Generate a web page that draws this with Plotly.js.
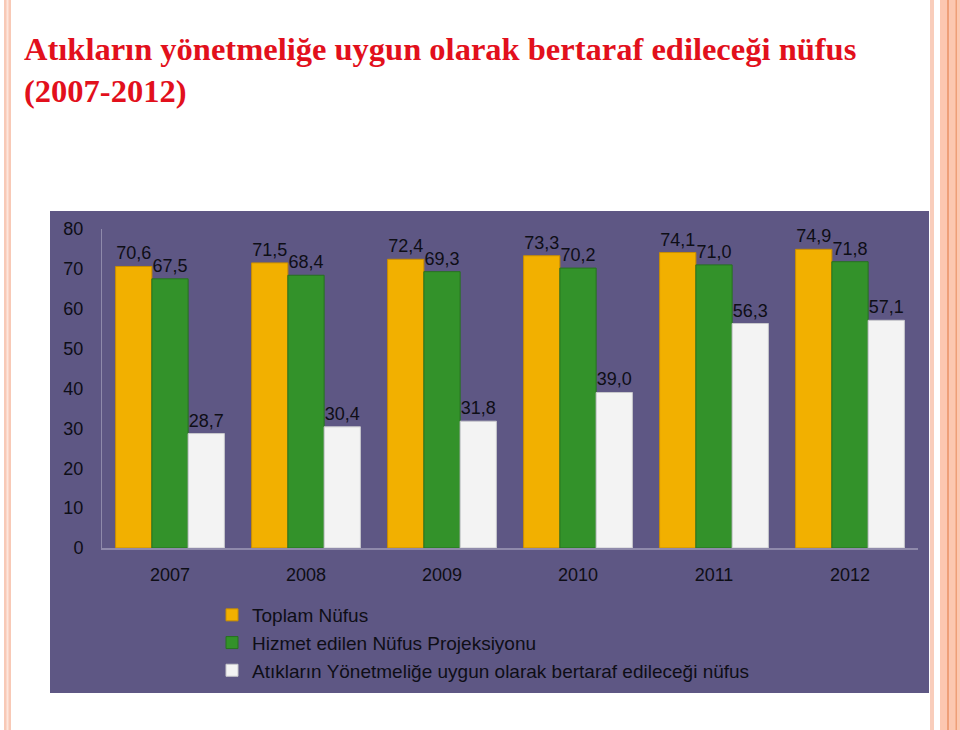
<!DOCTYPE html>
<html>
<head>
<meta charset="utf-8">
<script src="https://cdn.plot.ly/plotly-3.0.1.min.js"></script>
<style>
  html, body { margin: 0; padding: 0; background: #ffffff; }
  #chart { width: 960px; height: 730px; }
</style>
</head>
<body>
<div id="chart"></div>
<script>
// ---- data ----
const years = ['2007', '2008', '2009', '2010', '2011', '2012'];
const toplamNufus = [70.6, 71.5, 72.4, 73.3, 74.1, 74.9];
const hizmetEdilen = [67.5, 68.4, 69.3, 70.2, 71.0, 71.8];
const bertarafNufus = [28.7, 30.4, 31.8, 39.0, 56.3, 57.1];
const seriesNames = [
  'Toplam Nüfus',
  'Hizmet edilen Nüfus Projeksiyonu',
  'Atıkların Yönetmeliğe uygun olarak bertaraf edileceği nüfus'
];
const titleLine1 = 'Atıkların yönetmeliğe uygun olarak bertaraf edileceği nüfus';
const titleLine2 = '(2007-2012)';

// ---- layout geometry (pixels) ----
const W = 960, H = 730;
const PL = 102, PR = 918, PT = 229, PB = 548;
const px = v => (v - PL) / (PR - PL);
const py = v => (PB - v) / (PB - PT);

const textColor = '#0e0e16';
const common = {
  type: 'bar',
  x: years,
  texttemplate: '%{y:.1f}',
  textposition: 'outside',
  constraintext: 'none',
  cliponaxis: false,
  textfont: { family: 'Liberation Sans, Arial, sans-serif', size: 18, color: textColor },
  hoverinfo: 'x+y'
};

const traces = [
  Object.assign({}, common, {
    name: seriesNames[0], y: toplamNufus,
    marker: { color: '#f2b000', line: { color: '#c98e00', width: 1 } }
  }),
  Object.assign({}, common, {
    name: seriesNames[1], y: hizmetEdilen,
    marker: { color: '#33922a', line: { color: '#26721f', width: 1 } }
  }),
  Object.assign({}, common, {
    name: seriesNames[2], y: bertarafNufus,
    marker: { color: '#f3f3f3', line: { color: '#c8c8cc', width: 1 } }
  })
];

const shapes = [
  // purple panel
  { type: 'rect', xref: 'paper', yref: 'paper', layer: 'below',
    x0: px(50), x1: px(929), y0: py(693), y1: py(211),
    fillcolor: '#5e5784', line: { width: 0 } },
  // left decorative band
  { type: 'rect', xref: 'paper', yref: 'paper', layer: 'below',
    x0: px(4), x1: px(11), y0: py(730), y1: py(0),
    fillcolor: '#f8c9b6', line: { width: 0 } },
  { type: 'rect', xref: 'paper', yref: 'paper', layer: 'below',
    x0: px(6.5), x1: px(8.5), y0: py(730), y1: py(0),
    fillcolor: '#fde6dc', line: { width: 0 } },
  // right decorative lines
  { type: 'rect', xref: 'paper', yref: 'paper', layer: 'below',
    x0: px(930), x1: px(934), y0: py(730), y1: py(0),
    fillcolor: '#f9cdbb', line: { width: 0 } },
  { type: 'rect', xref: 'paper', yref: 'paper', layer: 'below',
    x0: px(940), x1: px(960), y0: py(730), y1: py(0),
    fillcolor: '#fcc7b0', line: { width: 0 } },
  { type: 'rect', xref: 'paper', yref: 'paper', layer: 'below',
    x0: px(947), x1: px(949), y0: py(730), y1: py(0),
    fillcolor: '#ee9f78', line: { width: 0 } },
  { type: 'rect', xref: 'paper', yref: 'paper', layer: 'below',
    x0: px(955.5), x1: px(957), y0: py(730), y1: py(0),
    fillcolor: '#ee9f78', line: { width: 0 } }
];

const titleFont = { family: 'Liberation Serif, Times New Roman, serif', size: 32.5, color: '#e2101c', weight: 'bold' };

const layout = {
  width: W, height: H,
  margin: { l: PL, r: W - PR, t: PT, b: H - PB, pad: 0 },
  paper_bgcolor: '#ffffff',
  plot_bgcolor: 'rgba(0,0,0,0)',
  separators: ',.',
  barmode: 'group',
  bargap: 0.2,
  bargroupgap: 0,
  showlegend: true,
  font: { family: 'Liberation Sans, Arial, sans-serif', size: 18, color: textColor },
  xaxis: {
    type: 'category',
    showgrid: false, zeroline: false,
    showline: true, linecolor: '#8f8aab', linewidth: 1.5,
    ticks: 'outside', ticklen: 10, tickcolor: 'rgba(0,0,0,0)',
    tickfont: { size: 18, color: textColor },
    fixedrange: true
  },
  yaxis: {
    range: [0, 80], dtick: 10, tick0: 0,
    showgrid: false, zeroline: false,
    showline: true, linecolor: '#8f8aab', linewidth: 1,
    ticks: 'outside', ticklen: 14, tickcolor: 'rgba(0,0,0,0)',
    tickfont: { size: 18, color: textColor },
    fixedrange: true
  },
  legend: {
    orientation: 'v',
    x: px(212), y: py(596), xanchor: 'left', yanchor: 'top',
    bgcolor: 'rgba(0,0,0,0)',
    font: { size: 19, color: textColor },
    traceorder: 'normal',
    tracegroupgap: 0,
    itemclick: false, itemdoubleclick: false
  },
  shapes: shapes,
  annotations: [
    { xref: 'paper', yref: 'paper', x: px(22), y: py(29), xanchor: 'left', yanchor: 'top',
      text: titleLine1, showarrow: false, align: 'left', font: titleFont },
    { xref: 'paper', yref: 'paper', x: px(22), y: py(71), xanchor: 'left', yanchor: 'top',
      text: titleLine2, showarrow: false, align: 'left', font: titleFont }
  ]
};

Plotly.newPlot('chart', traces, layout, { displayModeBar: false, staticPlot: false });
</script>
</body>
</html>
